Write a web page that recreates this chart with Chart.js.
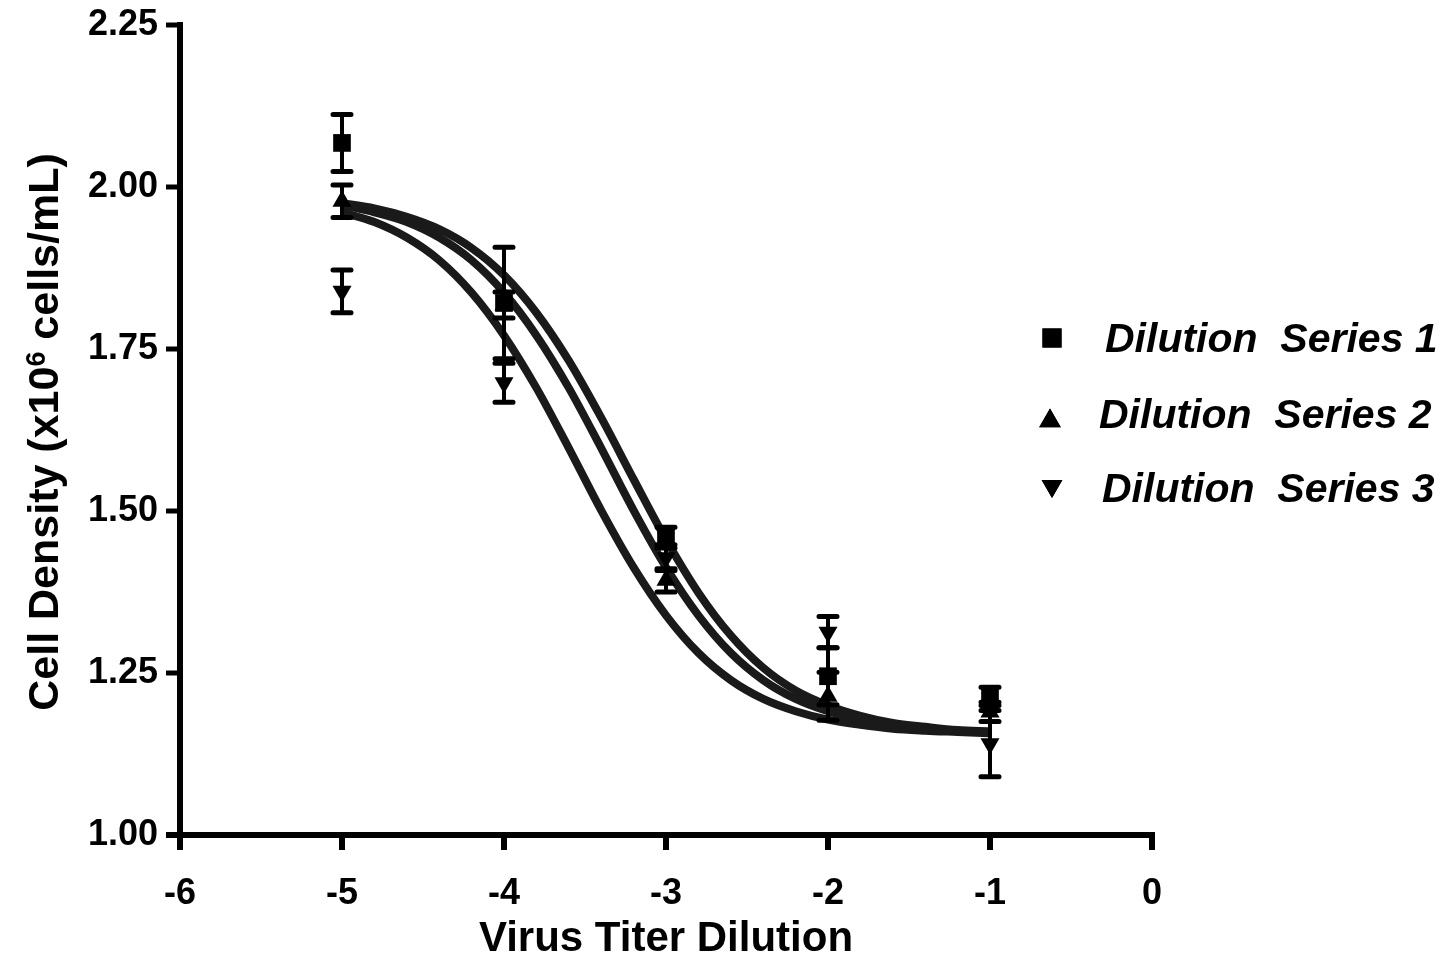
<!DOCTYPE html>
<html>
<head>
<meta charset="utf-8">
<style>
html,body{margin:0;padding:0;background:#fff;}
#wrap{width:1449px;height:953px;position:relative;}
</style>
<script src="https://cdn.jsdelivr.net/npm/chart.js@4.4.0/dist/chart.umd.min.js"></script>
</head>
<body>
<div id="wrap"><canvas id="c" width="1449" height="953"></canvas></div>
<script>
// ---- data ----
const doses = [-5, -4, -3, -2, -1];
const s1Mean = [2.068, 1.821, 1.459, 1.245, 1.214];
const s1Err  = [0.044, 0.086, 0.016, 0.044, 0.014];
const s2Mean = [1.978, 1.818, 1.393, 1.214, 1.190];
const s2Err  = [0.025, 0.020, 0.018, 0.037, 0.015];
const s3Mean = [1.839, 1.698, 1.428, 1.313, 1.141];
const s3Err  = [0.033, 0.030, 0.020, 0.024, 0.051];

const fitX = [-5.0,-4.8,-4.6,-4.4,-4.2,-4.0,-3.8,-3.6,-3.4,-3.2,-3.0,-2.8,-2.6,-2.4,-2.2,-2.0,-1.8,-1.6,-1.4,-1.2,-1.0];
const fit1 = [1.975,1.967,1.954,1.935,1.906,1.864,1.806,1.732,1.644,1.549,1.456,1.374,1.308,1.258,1.223,1.200,1.184,1.173,1.167,1.162,1.160];
const fit2 = [1.972,1.961,1.946,1.922,1.887,1.837,1.771,1.690,1.597,1.501,1.413,1.339,1.281,1.239,1.210,1.191,1.178,1.170,1.164,1.161,1.159];
const fit3 = [1.961,1.946,1.922,1.887,1.837,1.771,1.690,1.597,1.501,1.413,1.339,1.281,1.239,1.210,1.191,1.178,1.170,1.164,1.161,1.159,1.157];

const xTicks = [-6, -5, -4, -3, -2, -1, 0];
const yTicks = [1.00, 1.25, 1.50, 1.75, 2.00, 2.25];
const seriesLabels = ['Dilution  Series 1', 'Dilution  Series 2', 'Dilution  Series 3'];
const xTitle = 'Virus Titer Dilution';
const yTitleParts = ['Cell Density (x10', '6', ' cells/mL)'];

// ---- helpers ----
const FONT = '"Liberation Sans", Arial, Helvetica, sans-serif';
const pts = (xs, ys) => xs.map((x, i) => ({x: x, y: ys[i]}));
const INK = '#000000';
const CURVE = '#1a1a1a';

const markerStyles = [
  {pointStyle: 'rect', radius: 12.5, rotation: 0},
  {pointStyle: 'triangle', radius: 11, rotation: 0},
  {pointStyle: 'triangle', radius: 11, rotation: 180}
];
const means = [s1Mean, s2Mean, s3Mean];
const errs = [s1Err, s2Err, s3Err];

const errorBarPlugin = {
  id: 'errorBars',
  afterDatasetsDraw(chart) {
    const ctx = chart.ctx, xs = chart.scales.x, ys = chart.scales.y;
    ctx.save();
    ctx.strokeStyle = INK;
    for (let s = 0; s < 3; s++) {
      for (let i = 0; i < doses.length; i++) {
        const px = xs.getPixelForValue(doses[i]);
        const pt = ys.getPixelForValue(means[s][i] + errs[s][i]);
        const pb = ys.getPixelForValue(means[s][i] - errs[s][i]);
        ctx.lineCap = 'butt';
        ctx.lineWidth = 4;
        ctx.beginPath(); ctx.moveTo(px, pt); ctx.lineTo(px, pb); ctx.stroke();
        ctx.lineCap = 'round';
        ctx.lineWidth = 5;
        ctx.beginPath();
        ctx.moveTo(px - 9, pt); ctx.lineTo(px + 9, pt);
        ctx.moveTo(px - 9, pb); ctx.lineTo(px + 9, pb);
        ctx.stroke();
      }
    }
    ctx.restore();
  }
};

const axesPlugin = {
  id: 'axesLines',
  afterDraw(chart) {
    const ctx = chart.ctx, xs = chart.scales.x, ys = chart.scales.y;
    const x0 = xs.getPixelForValue(xTicks[0]);
    const x1 = xs.getPixelForValue(xTicks[xTicks.length - 1]);
    const y0 = ys.getPixelForValue(yTicks[0]);
    const y1 = ys.getPixelForValue(yTicks[yTicks.length - 1]);
    ctx.save();
    ctx.strokeStyle = INK;
    ctx.lineCap = 'butt';
    ctx.lineWidth = 6;
    ctx.beginPath(); ctx.moveTo(x0, y1 - 3); ctx.lineTo(x0, y0 + 3); ctx.stroke();
    ctx.beginPath(); ctx.moveTo(x0 - 14, y0); ctx.lineTo(x1 + 3, y0); ctx.stroke();
    ctx.lineWidth = 5;
    yTicks.forEach(v => {
      const py = ys.getPixelForValue(v);
      ctx.beginPath(); ctx.moveTo(x0 - 14, py); ctx.lineTo(x0, py); ctx.stroke();
    });
    ctx.lineWidth = 6;
    xTicks.forEach(v => {
      const px = xs.getPixelForValue(v);
      ctx.beginPath(); ctx.moveTo(px, y0); ctx.lineTo(px, y0 + 15); ctx.stroke();
    });
    ctx.restore();
  }
};

const yTitlePlugin = {
  id: 'yTitle',
  afterDraw(chart) {
    const ctx = chart.ctx;
    const big = 'bold 43px ' + FONT, small = 'bold 27px ' + FONT;
    ctx.save();
    ctx.fillStyle = INK;
    ctx.textBaseline = 'alphabetic';
    ctx.textAlign = 'left';
    ctx.font = big; const w1 = ctx.measureText(yTitleParts[0]).width; const w3 = ctx.measureText(yTitleParts[2]).width;
    ctx.font = small; const w2 = ctx.measureText(yTitleParts[1]).width;
    const total = w1 + w2 + w3;
    ctx.translate(58, 432);
    ctx.rotate(-Math.PI / 2);
    let x = -total / 2;
    ctx.font = big; ctx.fillText(yTitleParts[0], x, 0); x += w1;
    ctx.font = small; ctx.fillText(yTitleParts[1], x, -13); x += w2;
    ctx.font = big; ctx.fillText(yTitleParts[2], x, 0);
    ctx.restore();
  }
};

const legendPlugin = {
  id: 'customLegend',
  afterDraw(chart) {
    const ctx = chart.ctx;
    const rows = [
      {mx: 1052, my: 338, tx: 1105, ty: 352, r: 13.5},
      {mx: 1050, my: 421, tx: 1099, ty: 428, r: 12.5},
      {mx: 1052, my: 486, tx: 1102, ty: 502, r: 12}
    ];
    ctx.save();
    ctx.fillStyle = INK;
    ctx.strokeStyle = INK;
    rows.forEach((r, i) => {
      Chart.helpers.drawPoint(ctx, {pointStyle: markerStyles[i].pointStyle, radius: r.r, rotation: markerStyles[i].rotation, borderWidth: 0}, r.mx, r.my);
      ctx.fill();
      ctx.font = 'italic bold 41px ' + FONT;
      ctx.textAlign = 'left';
      ctx.textBaseline = 'alphabetic';
      ctx.fillText(seriesLabels[i], r.tx, r.ty);
    });
    ctx.restore();
  }
};

const scatterDs = (i, ys) => ({
  type: 'scatter',
  label: seriesLabels[i],
  data: pts(doses, ys),
  pointStyle: markerStyles[i].pointStyle,
  pointRadius: markerStyles[i].radius,
  pointRotation: markerStyles[i].rotation,
  pointBackgroundColor: INK,
  pointBorderColor: INK,
  pointBorderWidth: 0,
  showLine: false
});
const lineDs = (ys) => ({
  type: 'line',
  data: pts(fitX, ys),
  borderColor: CURVE,
  borderWidth: 8,
  pointRadius: 0,
  fill: false,
  cubicInterpolationMode: 'monotone',
  borderCapStyle: 'butt'
});

new Chart(document.getElementById('c'), {
  data: {
    datasets: [
      scatterDs(0, s1Mean), scatterDs(1, s2Mean), scatterDs(2, s3Mean),
      lineDs(fit1), lineDs(fit2), lineDs(fit3)
    ]
  },
  options: {
    responsive: false,
    animation: false,
    events: [],
    layout: {padding: {left: 0, right: 297, top: 25, bottom: 0}},
    plugins: {legend: {display: false}, tooltip: {enabled: false}, title: {display: false}},
    scales: {
      x: {
        type: 'linear', position: 'bottom', min: -6, max: 0,
        afterBuildTicks: s => { s.ticks = xTicks.map(v => ({value: v})); },
        afterFit: s => { s.height = 118; s.paddingLeft = 0; s.paddingRight = 0; },
        grid: {display: false},
        border: {display: false},
        ticks: {color: INK, padding: 29, font: {family: FONT, size: 36, weight: 'bold', lineHeight: 1.2}, callback: v => String(v), maxRotation: 0},
        title: {display: true, text: xTitle, color: INK, font: {family: FONT, size: 42, weight: 'bold', lineHeight: 1}, padding: {top: 0, bottom: -7}}
      },
      y: {
        type: 'linear', position: 'left', min: 1, max: 2.25,
        afterBuildTicks: s => { s.ticks = yTicks.map(v => ({value: v})); },
        afterFit: s => { s.width = 180; s.paddingTop = 0; s.paddingBottom = 0; },
        grid: {display: false},
        border: {display: false},
        ticks: {color: INK, padding: 14, font: {family: FONT, size: 36, weight: 'bold', lineHeight: 1.2}, callback: v => Number(v).toFixed(2)}
      }
    }
  },
  plugins: [axesPlugin, errorBarPlugin, yTitlePlugin, legendPlugin]
});
</script>
</body>
</html>
